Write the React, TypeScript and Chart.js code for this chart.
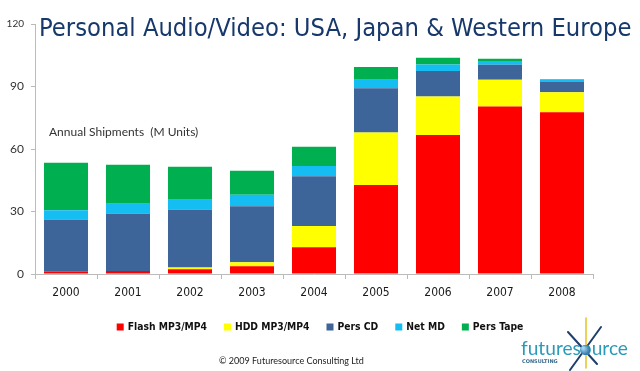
import React, { useEffect, useRef } from "react";
import { Chart, registerables } from "chart.js";

Chart.register(...registerables);

const TITLE = "Personal Audio/Video: USA, Japan & Western Europe";
const SUBTITLE = "Annual Shipments  (M Units)";
const COPYRIGHT = "\u00A9 2009 Futuresource Consulting Ltd";

const years = ["2000", "2001", "2002", "2003", "2004", "2005", "2006", "2007", "2008"];
const yTicks = [0, 30, 60, 90, 120];

const seriesNames = ["Flash MP3/MP4", "HDD MP3/MP4", "Pers CD", "Net MD", "Pers Tape"];
const flash = [1.1, 1.5, 2.3, 3.7, 12.9, 42.7, 66.7, 80.4, 77.6];
const hdd = [0, 0, 0.8, 2.0, 10.1, 25.2, 18.5, 12.8, 9.7];
const persCd = [25.0, 27.4, 27.7, 26.8, 23.9, 21.3, 12.3, 7.2, 5.1];
const netMd = [4.5, 4.8, 4.9, 5.5, 4.9, 4.0, 3.1, 1.9, 1.0];
const persTape = [22.8, 18.8, 15.8, 11.6, 9.3, 6.2, 3.2, 1.0, 0.2];

const seriesColors = ["#FF0000", "#FFFF00", "#3E6599", "#14BEF2", "#00B050"];

const overlayPlugin = {
  id: "overlay",
  afterDraw(chart: any) {
    const ctx = chart.ctx as CanvasRenderingContext2D;
    ctx.save();
    ctx.textAlign = "left";
    ctx.textBaseline = "alphabetic";

    // Title
    ctx.fillStyle = "#17386B";
    let size = 24;
    const tf = (s: number) => `${s}px "DejaVu Sans Condensed", "DejaVu Sans", sans-serif`;
    ctx.font = tf(size);
    size = (size * 593) / ctx.measureText(TITLE).width;
    ctx.font = tf(size);
    ctx.fillText(TITLE, 39, 36);

    // Subtitle
    ctx.fillStyle = "#333333";
    ctx.font = `12px Lato, "Open Sans", sans-serif`;
    ctx.textBaseline = "middle";
    ctx.fillText(SUBTITLE, 49, 132);

    // Legend
    const ds = chart.data.datasets;
    const lf = (s: number) => `bold ${s}px "DejaVu Sans Condensed", "DejaVu Sans", sans-serif`;
    ctx.font = lf(12);
    const box = 7;
    const gap = 4;
    const spacing = 17;
    const raw = ds.reduce((a: number, d: any) => a + ctx.measureText(d.label).width, 0);
    const lsz = (12 * 284) / raw;
    ctx.font = lf(lsz);
    const widths = ds.map((d: any) => ctx.measureText(d.label).width);
    const total =
      widths.reduce((a: number, b: number) => a + b, 0) +
      ds.length * (box + gap) +
      (ds.length - 1) * spacing;
    let x = 320 - total / 2;
    const ly = 327;
    ds.forEach((d: any, i: number) => {
      ctx.fillStyle = d.backgroundColor;
      ctx.fillRect(x, ly - 3.5, box, box);
      x += box + gap;
      ctx.fillStyle = "#111111";
      ctx.fillText(d.label, x, ly + 0.5);
      x += widths[i] + spacing;
    });

    // Copyright
    ctx.fillStyle = "#222222";
    ctx.font = `9px Lato, "Open Sans", sans-serif`;
    const cw = ctx.measureText(COPYRIGHT).width;
    const cs = (9 * 145) / cw;
    ctx.font = `${cs}px Lato, "Open Sans", sans-serif`;
    ctx.fillText(COPYRIGHT, 219, 361);

    // Logo star
    ctx.lineCap = "round";
    ctx.strokeStyle = "#E8C020";
    ctx.lineWidth = 1.5;
    ctx.beginPath();
    ctx.moveTo(586, 318);
    ctx.lineTo(586, 368);
    ctx.stroke();
    ctx.strokeStyle = "#1E3F6E";
    ctx.lineWidth = 2;
    ctx.beginPath();
    ctx.moveTo(568, 332);
    ctx.lineTo(597, 364);
    ctx.moveTo(601, 327);
    ctx.lineTo(570, 370);
    ctx.stroke();

    // Logo text
    ctx.textBaseline = "alphabetic";
    const logo = "futuresource";
    ctx.font = `20px Lato, "Open Sans", sans-serif`;
    const lw = ctx.measureText(logo).width;
    const ls = (20 * 107) / lw;
    ctx.font = `${ls}px Lato, "Open Sans", sans-serif`;
    ctx.fillStyle = "#2A9AB8";
    ctx.fillText(logo, 521, 355);
    const grd = ctx.createRadialGradient(583, 348, 1, 585, 350, 6);
    grd.addColorStop(0, "#9FD8F0");
    grd.addColorStop(1, "#1B5E9A");
    ctx.fillStyle = grd;
    ctx.beginPath();
    ctx.arc(585, 350, 5, 0, Math.PI * 2);
    ctx.fill();

    ctx.fillStyle = "#3A6A8C";
    ctx.font = `bold 5px "DejaVu Sans", sans-serif`;
    ctx.fillText("CONSULTING", 522, 363);

    ctx.restore();
  },
};

export default function App() {
  const ref = useRef<HTMLCanvasElement | null>(null);
  useEffect(() => {
    if (!ref.current) return;
    const values = [flash, hdd, persCd, netMd, persTape];
    const chart = new Chart(ref.current, {
      type: "bar",
      data: {
        labels: years,
        datasets: values.map((v, i) => ({
          label: seriesNames[i],
          data: v,
          backgroundColor: seriesColors[i],
          borderWidth: 0,
          categoryPercentage: 1,
          barPercentage: 0.71,
        })),
      },
      options: {
        animation: false,
        responsive: false,
        devicePixelRatio: 1,
        layout: { padding: { top: 24, right: 47, left: 0, bottom: 0 } },
        plugins: {
          legend: { display: false },
          tooltip: { enabled: false },
          title: { display: false },
        },
        scales: {
          x: {
            stacked: true,
            grid: { offset: true, drawOnChartArea: false, tickLength: 5, color: "#BBBBBB" },
            border: { color: "#BBBBBB" },
            ticks: {
              padding: 7,
              color: "#1A1A1A",
              font: { family: '"DejaVu Sans Condensed", "DejaVu Sans", sans-serif', size: 12 },
            },
            afterFit: (s: any) => {
              s.height = 97;
            },
          },
          y: {
            stacked: true,
            min: 0,
            max: 120,
            afterBuildTicks: (s: any) => {
              s.ticks = yTicks.map((v) => ({ value: v }));
            },
            grid: { drawOnChartArea: false, tickLength: 4, color: "#BBBBBB" },
            border: { color: "#BBBBBB" },
            ticks: {
              padding: 7,
              color: "#333333",
              font: (c: any) => ({
                family: 'Lato, "Open Sans", sans-serif',
                size: c.tick && c.tick.value === 120 ? 10 : 12,
              }),
            },
            afterFit: (s: any) => {
              s.width = 35;
            },
          },
        },
      },
      plugins: [overlayPlugin],
    });
    return () => chart.destroy();
  }, []);
  return (
    <div style={{ position: "absolute", left: 0, top: 0, width: 640, height: 371, background: "#fff" }}>
      <canvas ref={ref} width={640} height={371} />
    </div>
  );
}
